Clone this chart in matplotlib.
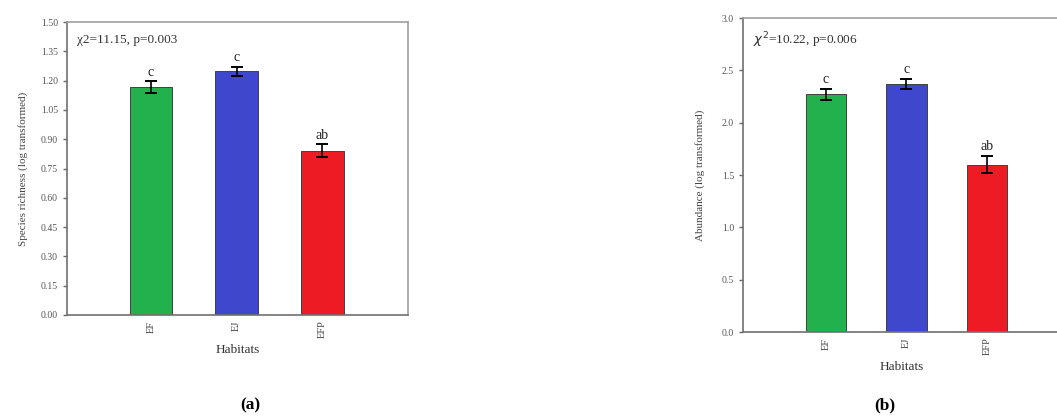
import matplotlib
matplotlib.use("Agg")
from matplotlib import pyplot as plt

plt.rcParams['font.family'] = ['Liberation Serif', 'DejaVu Serif']

habitats = ["EF", "EJ", "EFP"]
colors = ["#22b14c", "#3f48cc", "#ed1c24"]

richness = [1.167, 1.249, 0.84]
richness_err = [0.03, 0.023, 0.033]
richness_letters = ["c", "c", "ab"]

abundance = [2.27, 2.37, 1.60]
abundance_err = [0.055, 0.05, 0.08]
abundance_letters = ["c", "c", "ab"]


def draw_panel(ax, values, errs, letters, ylabel, yticks, ylim, xlim, stat, pad, ylpad):
    x = range(len(values))
    ax.bar(x, values, width=0.5, color=colors, edgecolor="#404040", linewidth=0.7)
    ax.errorbar(x, values, yerr=errs, fmt="none", ecolor="black",
                elinewidth=1.2, capsize=4, capthick=1.4)
    for i, (v, e, t) in enumerate(zip(values, errs, letters)):
        ax.text(i, v + e + pad, t, ha="center", va="bottom", fontsize=10, color="#222222")
    ax.set_xlim(*xlim)
    ax.set_ylim(*ylim)
    ax.set_yticks(yticks)
    ax.set_xticks(list(x))
    ax.set_xticklabels(habitats, rotation=90, fontsize=7.5, color="#444444")
    ax.tick_params(axis="y", labelsize=7, colors="#666666", length=3, width=1.0)
    ax.tick_params(axis="y", labelcolor="#555555")
    ax.tick_params(axis="x", length=0, pad=4)
    ax.set_ylabel(ylabel, fontsize=8, color="#444444", labelpad=ylpad)
    ax.set_xlabel("Habitats", fontsize=9.5, color="#333333", labelpad=4)
    for side in ["left", "bottom"]:
        ax.spines[side].set_color("#707070")
        ax.spines[side].set_linewidth(1.2)
    for side in ["top", "right"]:
        ax.spines[side].set_color("#a0a0a0")
        ax.spines[side].set_linewidth(1.2)
    ax.text(0.03, 0.96, stat, transform=ax.transAxes, ha="left", va="top",
            fontsize=9.5, color="#333333")


fig = plt.figure(figsize=(10.57, 4.2), dpi=100)

ax_a = fig.add_axes([0.0634, 0.25, 0.3226, 0.6976])
draw_panel(ax_a, richness, richness_err, richness_letters,
           "Species richness (log transformed)",
           [0.0, 0.15, 0.30, 0.45, 0.60, 0.75, 0.90, 1.05, 1.20, 1.35, 1.50],
           (0, 1.5), (-0.98, 3.0), "\u03c72=11.15, p=0.003", 0.012, 9)
ax_a.set_yticklabels(["%.2f" % t for t in ax_a.get_yticks()])

ax_b = fig.add_axes([0.703, 0.2095, 0.300, 0.7476])
draw_panel(ax_b, abundance, abundance_err, abundance_letters,
           "Abundance (log transformed)",
           [0.0, 0.5, 1.0, 1.5, 2.0, 2.5, 3.0],
           (0, 3.0), (-1.03, 2.91), r"$\chi^2$=10.22, p=0.006", 0.03, 12)
ax_b.set_yticklabels(["%.1f" % t for t in ax_b.get_yticks()])
ax_b.texts[-1].set_fontfamily(['Liberation Serif', 'DejaVu Serif'])

fig.text(250 / 1057, 1 - 405 / 420, "(a)", ha="center", va="center",
         fontsize=12.5, fontweight="bold")
fig.text(885 / 1057, 1 - 405 / 420, "(b)", ha="center", va="center",
         fontsize=12.5, fontweight="bold")

fig.savefig("out.png", dpi=100)
